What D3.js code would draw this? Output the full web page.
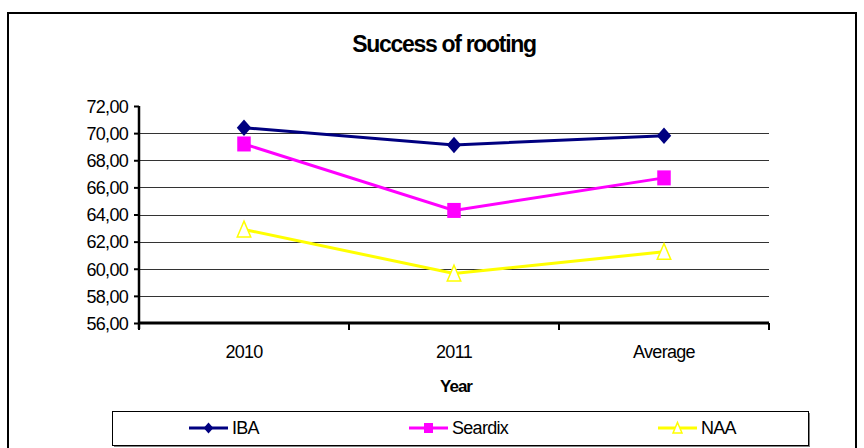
<!DOCTYPE html>
<meta charset="utf-8">
<style>

body {
  margin: 0;
  background: #fff;
}

text {
  font-family: "Liberation Sans", Arial, sans-serif;
  fill: #000;
}

.tick text, .legend text, .xlabel {
  font-size: 18px;
  letter-spacing: -0.7px;
}

.title {
  font-size: 23px;
  font-weight: bold;
  letter-spacing: -1.3px;
}

.axis-title {
  font-size: 17px;
  font-weight: bold;
  letter-spacing: -1px;
}

</style>
<body>
<script src="https://cdnjs.cloudflare.com/ajax/libs/d3/7.8.5/d3.min.js"></script>
<script>

var categories = ["2010", "2011", "Average"];
var seriesNames = ["IBA", "Seardix", "NAA"];
var ibaValues = [70.40, 69.13, 69.80];
var seardixValues = [69.20, 64.30, 66.70];
var naaValues = [62.90, 59.65, 61.25];
var yTicks = [56, 58, 60, 62, 64, 66, 68, 70, 72];

var width = 864,
    height = 448;

var plot = {left: 139, right: 769, top: 106, bottom: 323};

var series = [
  {name: seriesNames[0], values: ibaValues, color: "#000080", symbol: "diamond"},
  {name: seriesNames[1], values: seardixValues, color: "#ff00ff", symbol: "square"},
  {name: seriesNames[2], values: naaValues, color: "#ffff00", symbol: "triangle"}
];

var comma = d3.formatLocale({decimal: ",", thousands: ".", grouping: [3], currency: ["", ""]}).format(".2f");

var svg = d3.select("body").append("svg")
    .attr("width", width)
    .attr("height", height);

// outer chart border
svg.append("rect")
    .attr("x", 8)
    .attr("y", 13)
    .attr("width", 848)
    .attr("height", 450)
    .attr("fill", "none")
    .attr("stroke", "#000")
    .attr("stroke-width", 2);

var x = d3.scaleBand()
    .domain(categories)
    .range([plot.left, plot.right])
    .padding(0);

var y = d3.scaleLinear()
    .domain([56, 72])
    .range([plot.bottom, plot.top]);

function cx(d, i) { return x(categories[i]) + x.bandwidth() / 2; }

// gridlines
svg.append("g")
  .selectAll("line")
    .data(yTicks.filter(function(d) { return d > 56 && d < 72; }))
  .enter().append("line")
    .attr("x1", plot.left)
    .attr("x2", plot.right)
    .attr("y1", function(d) { return Math.round(y(d)) + 0.5; })
    .attr("y2", function(d) { return Math.round(y(d)) + 0.5; })
    .attr("stroke", "#333")
    .attr("stroke-width", 1);

// y axis
var yAxis = svg.append("g")
    .attr("transform", "translate(" + plot.left + ",0)")
    .call(d3.axisLeft(y).tickValues(yTicks).tickFormat(comma).tickSize(5).tickPadding(6));
yAxis.select(".domain").attr("stroke-width", 2.5).attr("d", "M0," + plot.top + "V" + (plot.bottom + 6));
yAxis.selectAll(".tick line").attr("stroke-width", 2);
yAxis.selectAll(".tick text").attr("dy", "0.35em");

// x axis with ticks between categories
var xAxis = svg.append("g")
    .attr("transform", "translate(0," + plot.bottom + ")");
xAxis.append("line")
    .attr("x1", plot.left)
    .attr("x2", plot.right)
    .attr("stroke", "#000")
    .attr("stroke-width", 3);
xAxis.selectAll(".xtick")
    .data(categories.concat(["end"]))
  .enter().append("line")
    .attr("x1", function(d, i) { return i < categories.length ? x(d) : plot.right; })
    .attr("x2", function(d, i) { return i < categories.length ? x(d) : plot.right; })
    .attr("y1", 0)
    .attr("y2", 7)
    .attr("stroke", "#000")
    .attr("stroke-width", 2);
xAxis.selectAll(".xlabel")
    .data(categories)
  .enter().append("text")
    .attr("class", "xlabel")
    .attr("x", cx)
    .attr("y", 35)
    .attr("text-anchor", "middle")
    .text(function(d) { return d; });

// titles
svg.append("text")
    .attr("class", "title")
    .attr("x", 444)
    .attr("y", 52)
    .attr("text-anchor", "middle")
    .text("Success of rooting");

svg.append("text")
    .attr("class", "axis-title")
    .attr("x", 456)
    .attr("y", 392)
    .attr("text-anchor", "middle")
    .text("Year");

function drawMarker(g, s, size) {
  if (s.symbol === "diamond") {
    g.append("path")
        .attr("d", "M0," + (-size * 0.55) + "L" + (size * 0.48) + ",0L0," + (size * 0.55) + "L" + (-size * 0.48) + ",0Z")
        .attr("fill", s.color);
  } else if (s.symbol === "square") {
    g.append("rect")
        .attr("x", -size * 0.45)
        .attr("y", -size * 0.5)
        .attr("width", size * 0.9)
        .attr("height", size)
        .attr("fill", s.color);
  } else {
    g.append("path")
        .attr("d", "M0," + (-size * 0.55) + "L" + (size * 0.45) + "," + (size * 0.5) + "L" + (-size * 0.45) + "," + (size * 0.5) + "Z")
        .attr("fill", "#fff")
        .attr("stroke", s.color)
        .attr("stroke-width", 1.5);
  }
}

var line = d3.line()
    .x(cx)
    .y(function(d) { return y(d); });

var seriesG = svg.selectAll(".series")
    .data(series)
  .enter().append("g")
    .attr("class", "series");

seriesG.append("path")
    .attr("d", function(s) { return line(s.values); })
    .attr("fill", "none")
    .attr("stroke", function(s) { return s.color; })
    .attr("stroke-width", 3);

seriesG.each(function(s) {
  d3.select(this).selectAll(".marker")
      .data(s.values)
    .enter().append("g")
      .attr("class", "marker")
      .attr("transform", function(d, i) { return "translate(" + cx(d, i) + "," + y(d) + ")"; })
      .each(function() { drawMarker(d3.select(this), s, 15); });
});

// legend
var legend = svg.append("g").attr("class", "legend");
legend.append("rect")
    .attr("x", 114)
    .attr("y", 413)
    .attr("width", 696)
    .attr("height", 34)
    .attr("fill", "#808080");
legend.append("rect")
    .attr("x", 112.5)
    .attr("y", 411.5)
    .attr("width", 696)
    .attr("height", 34)
    .attr("fill", "#fff")
    .attr("stroke", "#000")
    .attr("stroke-width", 1);

var legendX = [189, 409, 658];

var item = legend.selectAll(".item")
    .data(series)
  .enter().append("g")
    .attr("class", "item")
    .attr("transform", function(s, i) { return "translate(" + legendX[i] + ",428)"; });

item.append("line")
    .attr("x1", 0)
    .attr("x2", 39)
    .attr("stroke", function(s) { return s.color; })
    .attr("stroke-width", 3);

item.append("g")
    .attr("transform", "translate(19.5,0)")
    .each(function(s) { drawMarker(d3.select(this), s, 10); });

item.append("text")
    .attr("x", 43)
    .attr("dy", "0.35em")
    .text(function(s) { return s.name; });

</script>
